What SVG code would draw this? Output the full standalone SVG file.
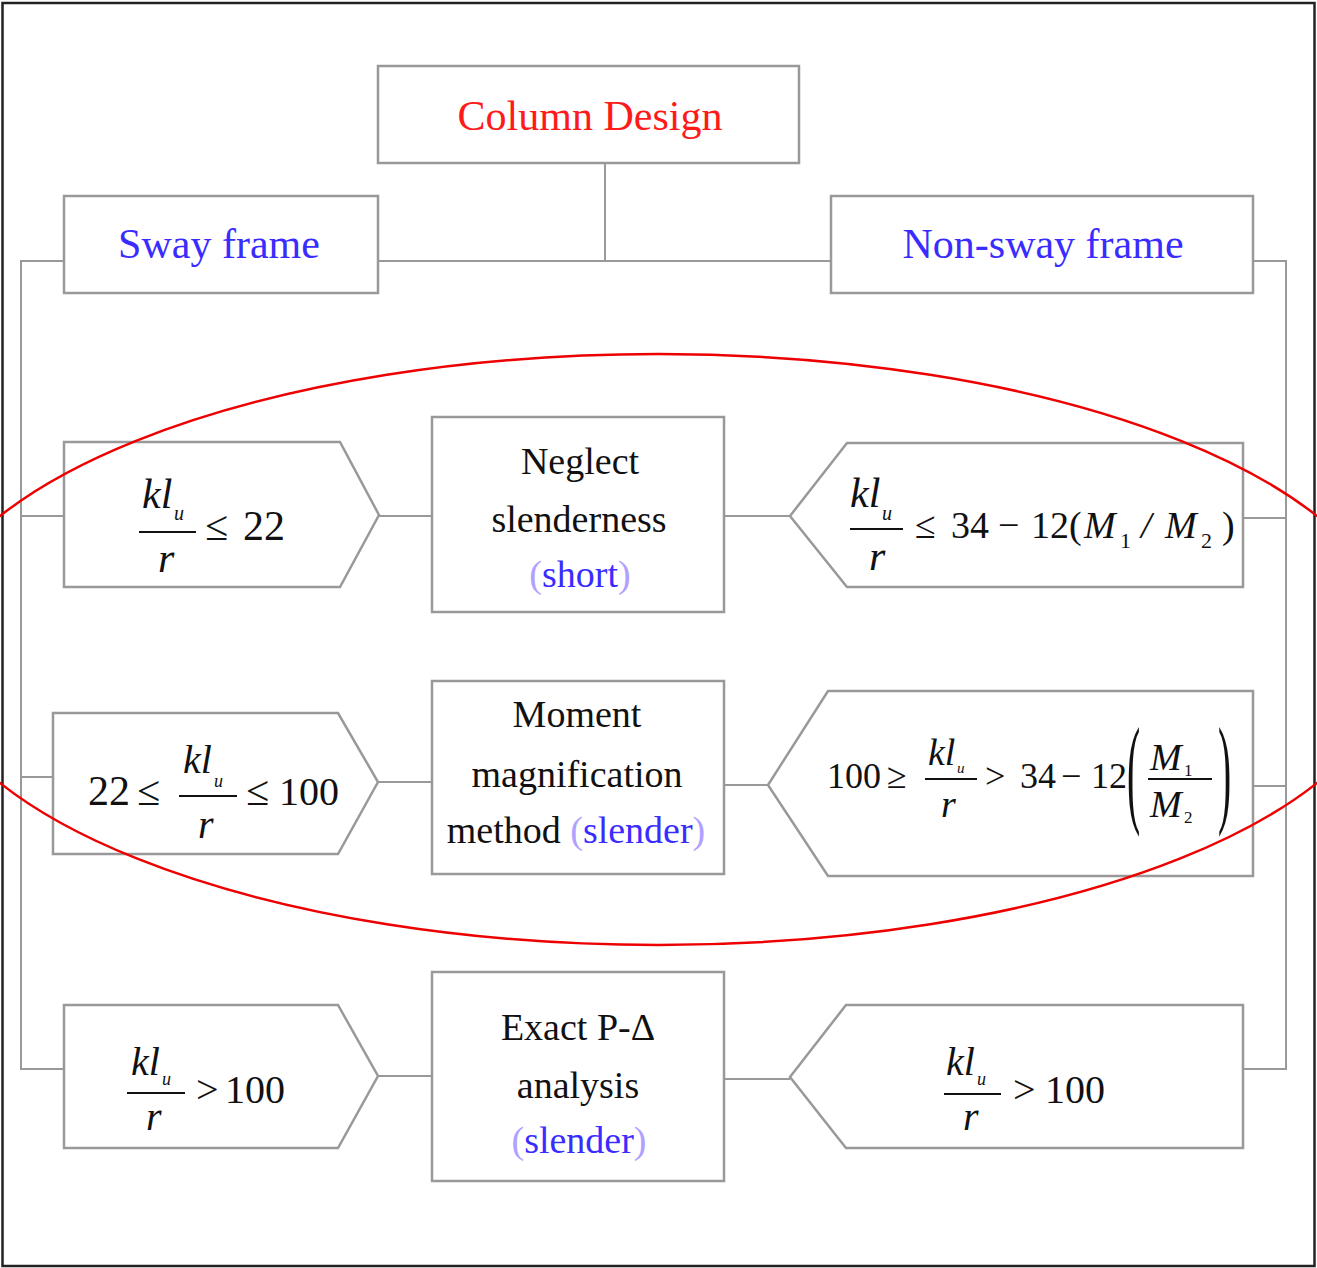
<svg xmlns="http://www.w3.org/2000/svg" width="1317" height="1268" viewBox="0 0 1317 1268">
<style>
.box{fill:#fff;stroke:#999;stroke-width:2.5}
.con{fill:none;stroke:#999;stroke-width:2}
.t{font-family:"Liberation Serif",serif;fill:#111}
.lbl{font-size:38px;text-anchor:middle}
.top{font-size:42px}
.blue{fill:#3a2cff}
.par{fill:#b0a0ff}
.red{fill:#ff1a1a}
.mi{font-style:italic}
.f42{font-size:42px}
.f40{font-size:40px}
.f38{font-size:38px}
.f36{font-size:36px}
.sub{font-size:20px}
.fl{stroke:#111;stroke-width:2}
</style>
<rect x="0" y="0" width="1317" height="1268" fill="#fff"/>
<rect x="2.5" y="3" width="1312" height="1263" fill="none" stroke="#222" stroke-width="2.5"/>

<g id="connectors">
<line class="con" x1="605" y1="163" x2="605" y2="261"/>
<line class="con" x1="378" y1="261" x2="831" y2="261"/>
<polyline class="con" points="64,261 21,261 21,1069 64,1069"/>
<line class="con" x1="21" y1="516" x2="64" y2="516"/>
<line class="con" x1="21" y1="777" x2="53" y2="777"/>
<polyline class="con" points="1253,261 1286,261 1286,1069 1243,1069"/>
<line class="con" x1="1243" y1="518" x2="1286" y2="518"/>
<line class="con" x1="1253" y1="786" x2="1286" y2="786"/>
<line class="con" x1="379" y1="516" x2="432" y2="516"/>
<line class="con" x1="724" y1="516" x2="790" y2="516"/>
<line class="con" x1="378" y1="782" x2="432" y2="782"/>
<line class="con" x1="724" y1="785" x2="768" y2="785"/>
<line class="con" x1="378" y1="1076" x2="432" y2="1076"/>
<line class="con" x1="724" y1="1079" x2="790" y2="1079"/>
</g>

<g id="column-design">
<rect class="box" x="378" y="66" width="421" height="97"/>
<text class="t lbl top red" x="590" y="130">Column Design</text>
</g>

<g id="sway-frame">
<rect class="box" x="64" y="196" width="314" height="97"/>
<text class="t lbl top blue" x="219" y="258">Sway frame</text>
</g>

<g id="non-sway-frame">
<rect class="box" x="831" y="196" width="422" height="97"/>
<text class="t lbl top blue" x="1043" y="258">Non-sway frame</text>
</g>

<g id="sway-short">
<polygon class="box" points="64,442 340,442 379,515 340,587 64,587"/>
<text class="t mi f42" x="142" y="508">kl</text>
<text class="t mi sub" x="174" y="520">u</text>
<line class="fl" x1="139" y1="532" x2="196" y2="532"/>
<text class="t mi f42" x="158" y="572">r</text>
<text class="t f42" x="205" y="540">≤</text>
<text class="t f42" x="243" y="540">22</text>
</g>

<g id="neglect">
<rect class="box" x="432" y="417" width="292" height="195"/>
<text class="t lbl" x="580" y="474">Neglect</text>
<text class="t lbl" x="579" y="532">slenderness</text>
<text class="t lbl" x="580" y="587"><tspan class="par">(</tspan><tspan class="blue">short</tspan><tspan class="par">)</tspan></text>
</g>

<g id="nonsway-short">
<polygon class="box" points="790,516 847,443 1243,443 1243,587 847,587"/>
<text class="t mi f42" x="850" y="507">kl</text>
<text class="t mi sub" x="882" y="520">u</text>
<line class="fl" x1="850" y1="529" x2="903" y2="529"/>
<text class="t mi f42" x="869" y="570">r</text>
<text class="t f38" x="915" y="538">≤</text>
<text class="t f38" x="951" y="538">34</text>
<text class="t f38" x="998" y="538">−</text>
<text class="t f38" x="1031" y="538">12</text>
<text class="t f38" x="1069" y="538">(</text>
<text class="t mi f38" x="1084" y="538">M</text>
<text class="t" x="1120" y="548" style="font-size:22px">1</text>
<text class="t mi f38" x="1141" y="538">/</text>
<text class="t mi f38" x="1165" y="538">M</text>
<text class="t" x="1201" y="548" style="font-size:22px">2</text>
<text class="t f38" x="1222" y="538">)</text>
</g>

<g id="sway-slender">
<polygon class="box" points="53,713 338,713 378,782 338,854 53,854"/>
<text class="t f42" x="88" y="805">22</text>
<text class="t f42" x="137" y="805">≤</text>
<text class="t mi f40" x="183" y="773">kl</text>
<text class="t mi sub" x="214" y="787" style="font-size:18px">u</text>
<line class="fl" x1="179" y1="796" x2="237" y2="796"/>
<text class="t mi f40" x="198" y="838">r</text>
<text class="t f42" x="246" y="805">≤</text>
<text class="t f40" x="279" y="805">100</text>
</g>

<g id="moment">
<rect class="box" x="432" y="681" width="292" height="193"/>
<text class="t lbl" x="577" y="727">Moment</text>
<text class="t lbl" x="577" y="787">magnification</text>
<text class="t lbl" x="576" y="843">method <tspan class="par">(</tspan><tspan class="blue">slender</tspan><tspan class="par">)</tspan></text>
</g>

<g id="nonsway-slender">
<polygon class="box" points="768,785 828,691 1253,691 1253,876 828,876"/>
<text class="t f36" x="827" y="788">100</text>
<text class="t f36" x="887" y="788">≥</text>
<text class="t mi f38" x="928" y="765">kl</text>
<text class="t mi" x="957" y="773" style="font-size:15px">u</text>
<line class="fl" x1="925" y1="779" x2="977" y2="779"/>
<text class="t mi f38" x="941" y="817">r</text>
<text class="t f36" x="985" y="788">&gt;</text>
<text class="t f36" x="1020" y="788">34</text>
<text class="t f36" x="1061" y="788">−</text>
<text class="t f36" x="1091" y="788">12</text>
<text class="t" transform="translate(1127,811) scale(0.33,1)" style="font-size:120px">(</text>
<text class="t mi f38" x="1150" y="770">M</text>
<text class="t" x="1184" y="776" style="font-size:17px">1</text>
<line class="fl" x1="1148" y1="779" x2="1212" y2="779"/>
<text class="t mi f38" x="1150" y="817">M</text>
<text class="t" x="1184" y="823" style="font-size:17px">2</text>
<text class="t" transform="translate(1218,811) scale(0.33,1)" style="font-size:120px">)</text>
</g>

<g id="sway-exact">
<polygon class="box" points="64,1005 338,1005 378,1076 338,1148 64,1148"/>
<text class="t mi f40" x="131" y="1075">kl</text>
<text class="t mi sub" x="162" y="1085" style="font-size:18px">u</text>
<line class="fl" x1="127" y1="1093" x2="185" y2="1093"/>
<text class="t mi f40" x="146" y="1130">r</text>
<text class="t f40" x="196" y="1103">&gt;</text>
<text class="t f40" x="225" y="1103">100</text>
</g>

<g id="exact">
<rect class="box" x="432" y="972" width="292" height="209"/>
<text class="t lbl" x="578" y="1040">Exact P-Δ</text>
<text class="t lbl" x="578" y="1098">analysis</text>
<text class="t lbl" x="579" y="1153"><tspan class="par">(</tspan><tspan class="blue">slender</tspan><tspan class="par">)</tspan></text>
</g>

<g id="nonsway-exact">
<polygon class="box" points="790,1077 846,1005 1243,1005 1243,1148 846,1148"/>
<text class="t mi f40" x="946" y="1075">kl</text>
<text class="t mi sub" x="977" y="1085" style="font-size:18px">u</text>
<line class="fl" x1="944" y1="1094" x2="1001" y2="1094"/>
<text class="t mi f40" x="963" y="1130">r</text>
<text class="t f40" x="1013" y="1103">&gt;</text>
<text class="t f40" x="1045" y="1103">100</text>
</g>

<ellipse id="highlight" cx="658.5" cy="649.5" rx="738" ry="295.5" fill="none" stroke="#ee0000" stroke-width="2.5"/>
</svg>
